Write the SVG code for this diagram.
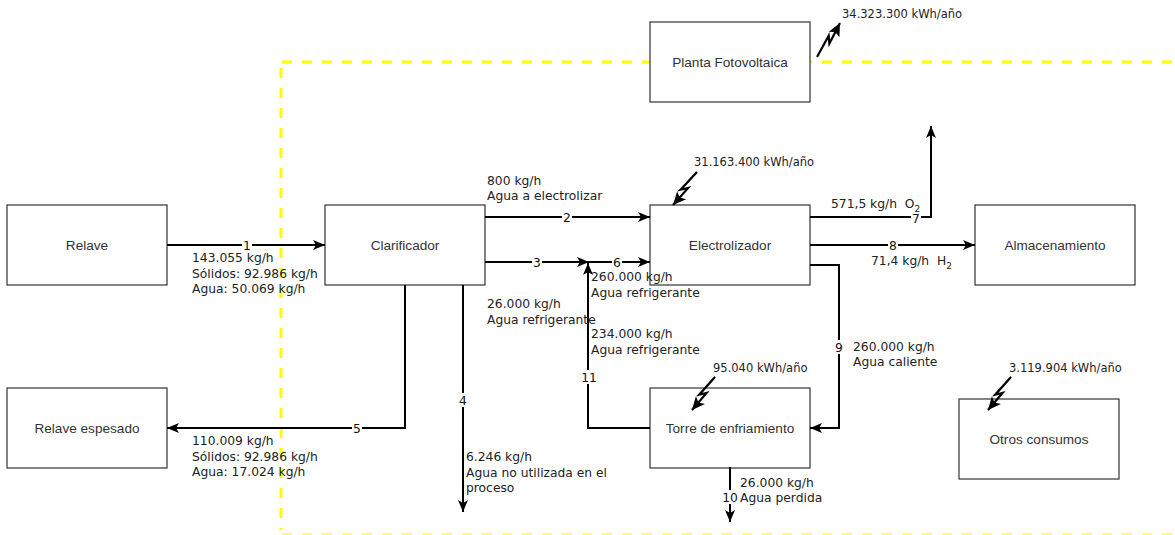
<svg xmlns="http://www.w3.org/2000/svg" width="1175" height="535" viewBox="0 0 1175 535">
<style>
.box{fill:#fff;stroke:#333;stroke-width:1.2}
.bt{font-family:"Liberation Sans",Arial,sans-serif;font-size:13.6px;fill:#333;text-anchor:middle}
.et{font-family:"DejaVu Sans",Verdana,sans-serif;font-size:12.3px;fill:#222}
.en{font-family:"DejaVu Sans",Verdana,sans-serif;font-size:11.5px;fill:#222}
.num{font-family:"DejaVu Sans",Verdana,sans-serif;font-size:12.3px;fill:#111;text-anchor:middle}
.ln{fill:none;stroke:#000;stroke-width:2;marker-end:url(#ah)}
.bolt{fill:none;stroke:#000;stroke-width:2.2;marker-end:url(#ahb)}
.bg{fill:#fff}
.yd{fill:none;stroke:#ffff00;stroke-width:3;stroke-dasharray:10 10}
</style>
<defs>
<marker id="ah" markerUnits="userSpaceOnUse" markerWidth="14" markerHeight="12" refX="12" refY="5" orient="auto" overflow="visible">
<path d="M0,0 L12,5 L0,10 L3,5 Z" fill="#000"/>
</marker>
<marker id="ahb" markerUnits="userSpaceOnUse" markerWidth="16" markerHeight="14" refX="13" refY="6" orient="auto" overflow="visible">
<path d="M0,0 L13,6 L0,12 L3,6 Z" fill="#000"/>
</marker>
</defs>
<rect width="1175" height="535" fill="#fff"/>
<g id="boundary">
<path class="yd" d="M282,62 H1175"/>
<path class="yd" d="M281,68 V530"/>
<path class="yd" d="M282,535 H1175" style="stroke-width:4;opacity:0.6"/>
</g>
<g id="relave"><rect class="box" x="7" y="205" width="160" height="80"/><text class="bt" x="87" y="250">Relave</text></g>
<g id="clarificador"><rect class="box" x="325" y="205" width="160" height="80"/><text class="bt" x="405" y="250">Clarificador</text></g>
<g id="electrolizador"><rect class="box" x="650" y="205" width="160" height="80"/><text class="bt" x="730" y="250">Electrolizador</text></g>
<g id="almacenamiento"><rect class="box" x="975" y="205" width="160" height="80"/><text class="bt" x="1055" y="250">Almacenamiento</text></g>
<g id="planta"><rect class="box" x="650" y="22" width="160" height="80"/><text class="bt" x="730" y="67">Planta Fotovoltaica</text></g>
<g id="relave-espesado"><rect class="box" x="7" y="388" width="160" height="80"/><text class="bt" x="87" y="433">Relave espesado</text></g>
<g id="torre"><rect class="box" x="650" y="388" width="160" height="80"/><text class="bt" x="730" y="433">Torre de enfriamiento</text></g>
<g id="otros"><rect class="box" x="959" y="399" width="160" height="80"/><text class="bt" x="1039" y="444">Otros consumos</text></g>
<g id="connectors">
<path class="ln" d="M167,245 H325"/>
<path class="ln" d="M485,217 H650"/>
<path class="ln" d="M485,262 H589"/>
<path class="ln" d="M589,262 H650"/>
<path class="ln" d="M650,428 H588 V263"/>
<path class="ln" d="M463,285 V512"/>
<path class="ln" d="M405,285 V428 H167"/>
<path class="ln" d="M810,217 H931 V126"/>
<path class="ln" d="M810,245 H975"/>
<path class="ln" d="M810,265 H839 V428 H810"/>
<path class="ln" d="M730,467 V522"/>
<path class="bolt" d="M817,57 L828.7,35.8 L829.4,43.6 L840,23"/>
<path class="bolt" d="M697,172 L680.6,189.7 L688.2,187.9 L673,205"/>
<path class="bolt" d="M715,377 L699.2,394.7 L706.6,392.9 L692,410"/>
<path class="bolt" d="M1011,377 L995.2,394.7 L1002.6,392.9 L988,410"/>
<rect class="bg" x="242" y="238" width="10" height="14"/><text class="num" x="247" y="249.5">1</text>
<rect class="bg" x="562" y="210" width="10" height="14"/><text class="num" x="567" y="221.5">2</text>
<rect class="bg" x="532" y="255" width="10" height="14"/><text class="num" x="537" y="266.5">3</text>
<rect class="bg" x="612" y="255" width="10" height="14"/><text class="num" x="617" y="266.5">6</text>
<rect class="bg" x="911" y="211" width="10" height="14"/><text class="num" x="916" y="222.5">7</text>
<rect class="bg" x="888" y="238" width="10" height="14"/><text class="num" x="893" y="249.5">8</text>
<rect class="bg" x="834" y="340" width="10" height="14"/><text class="num" x="839" y="351.5">9</text>
<rect class="bg" x="352" y="421" width="10" height="14"/><text class="num" x="357" y="432.5">5</text>
<rect class="bg" x="458" y="393" width="10" height="14"/><text class="num" x="463" y="404.5">4</text>
<rect class="bg" x="581" y="370" width="16" height="14"/><text class="num" x="589" y="381.5">11</text>
<rect class="bg" x="722" y="490" width="16" height="14"/><text class="num" x="730" y="501.5">10</text>
</g>
<g id="labels">
<text class="et" x="192" y="262">143.055 kg/h</text>
<text class="et" x="192" y="277.5">Sólidos: 92.986 kg/h</text>
<text class="et" x="192" y="293">Agua: 50.069 kg/h</text>
<text class="et" x="487" y="185">800 kg/h</text>
<text class="et" x="487" y="200">Agua a electrolizar</text>
<text class="et" x="487" y="308">26.000 kg/h</text>
<text class="et" x="487" y="324">Agua refrigerante</text>
<text class="et" x="591" y="281">260.000 kg/h</text>
<text class="et" x="591" y="297">Agua refrigerante</text>
<text class="et" x="591" y="338">234.000 kg/h</text>
<text class="et" x="591" y="354">Agua refrigerante</text>
<text class="et" x="466" y="461">6.246 kg/h</text>
<text class="et" x="466" y="477">Agua no utilizada en el</text>
<text class="et" x="466" y="492">proceso</text>
<text class="et" x="192" y="445">110.009 kg/h</text>
<text class="et" x="192" y="460.5">Sólidos: 92.986 kg/h</text>
<text class="et" x="192" y="476">Agua: 17.024 kg/h</text>
<text class="et" x="831" y="208">571,5 kg/h&#160; O<tspan font-size="9" dy="4">2</tspan></text>
<text class="et" x="871" y="265">71,4 kg/h&#160; H<tspan font-size="9" dy="4">2</tspan></text>
<text class="et" x="853" y="351">260.000 kg/h</text>
<text class="et" x="853" y="366">Agua caliente</text>
<text class="et" x="740" y="487">26.000 kg/h</text>
<text class="et" x="740" y="502">Agua perdida</text>
<text class="en" x="842" y="18">34.323.300 kWh/año</text>
<text class="en" x="694" y="166">31.163.400 kWh/año</text>
<text class="en" x="713" y="372">95.040 kWh/año</text>
<text class="en" x="1009" y="372">3.119.904 kWh/año</text>
</g>
</svg>
